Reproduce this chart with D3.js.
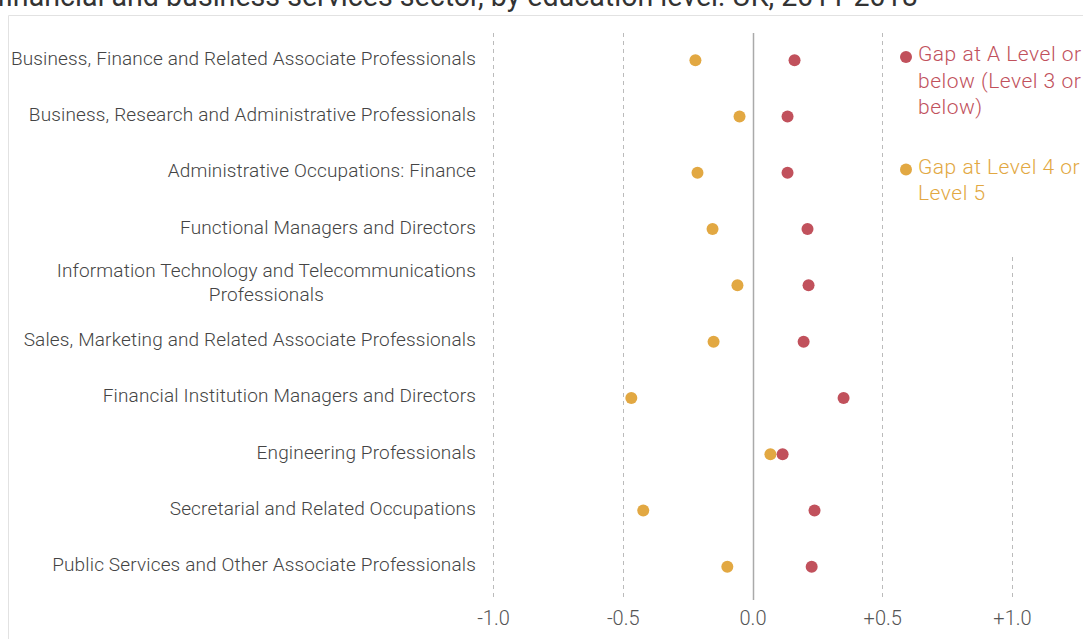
<!DOCTYPE html>
<html>
<head>
<meta charset="utf-8">
<script src="https://cdn.jsdelivr.net/npm/d3@7"></script>
<style>
  body { margin: 0; background: #fff; overflow: hidden; }
  text { font-family: Roboto, "Open Sans", sans-serif; }
</style>
</head>
<body>
<svg id="chart" width="1083" height="639"></svg>
<script>
const categories = [
    ["Business, Finance and Related Associate Professionals"],
    ["Business, Research and Administrative Professionals"],
    ["Administrative Occupations: Finance"],
    ["Functional Managers and Directors"],
    ["Information Technology and Telecommunications", "Professionals"],
    ["Sales, Marketing and Related Associate Professionals"],
    ["Financial Institution Managers and Directors"],
    ["Engineering Professionals"],
    ["Secretarial and Related Occupations"],
    ["Public Services and Other Associate Professionals"]
];
const gapALevel = [0.162, 0.135, 0.135, 0.212, 0.216, 0.197, 0.351, 0.116, 0.239, 0.228];
const gapLevel45 = [-0.22, -0.05, -0.212, -0.154, -0.058, -0.15, -0.467, 0.069, -0.421, -0.097];
const tickValues = [-1, -0.5, 0, 0.5, 1];
const tickLabels = ["-1.0", "-0.5", "0.0", "+0.5", "+1.0"];
const legendItems = [
    { lines: ["Gap at A Level or", "below (Level 3 or", "below)"], color: "#c1515c" },
    { lines: ["Gap at Level 4 or", "Level 5"], color: "#e2a842" }
];

const svg = d3.select("#chart");

// title, mostly cropped off the top
svg.append("text")
    .attr("x", -3)
    .attr("y", 6)
    .attr("font-size", 28.6)
    .attr("fill", "#333")
    .text("financial and business services sector, by education level: UK, 2011-2018");

// card border
svg.append("path")
    .attr("d", "M8.5,639 V15.5 H1083")
    .attr("fill", "none")
    .attr("stroke", "#e2e2e2");

const x = d3.scaleLinear().domain([-1, 1]).range([493, 1012]);
const y = d3.scaleBand().domain(d3.range(categories.length)).range([32, 595]);
const gridTop = 33, gridBottom = 600;

// grid
svg.append("g").selectAll("line")
    .data(tickValues)
    .join("line")
    .attr("x1", d => Math.round(x(d)) + 0.5)
    .attr("x2", d => Math.round(x(d)) + 0.5)
    .attr("y1", gridTop)
    .attr("y2", gridBottom)
    .attr("stroke", d => d === 0 ? "#aaa" : "#bbb")
    .attr("stroke-width", d => d === 0 ? 1.5 : 1)
    .attr("stroke-dasharray", d => d === 0 ? null : "4,4");

// axis labels
const axis = d3.axisBottom(x)
    .tickValues(tickValues)
    .tickFormat((d, i) => tickLabels[i])
    .tickSize(0)
    .tickPadding(0);
const ax = svg.append("g")
    .attr("transform", "translate(0,611)")
    .call(axis);
ax.select(".domain").remove();
ax.selectAll("text")
    .attr("font-family", "Roboto, sans-serif")
    .attr("font-weight", 300)
    .attr("font-size", 20)
    .attr("fill", "#555");

// category labels
const labels = svg.append("g");
categories.forEach((lines, i) => {
    const cy = y(i) + y.bandwidth() / 2;
    const t = labels.append("text")
        .attr("font-size", 19)
        .attr("letter-spacing", 0.15)
        .attr("font-weight", 300)
        .attr("fill", "#444");
    const lh = 23.5;
    const y0 = cy - (lines.length - 1) * lh / 2 + (lines.length > 1 ? 3.5 : 4.5);
    lines.forEach((ln, j) => {
        t.append("tspan").attr("y", y0 + j * lh).text(ln);
    });
    if (lines.length === 1) {
        t.attr("text-anchor", "end").selectAll("tspan").attr("x", 476);
    } else {
        const w = d3.max(t.selectAll("tspan").nodes(), n => n.getComputedTextLength());
        t.attr("text-anchor", "middle").selectAll("tspan").attr("x", 476 - w / 2);
    }
});

// dots
const dots = svg.append("g");
dots.selectAll(".orange")
    .data(gapLevel45)
    .join("circle")
    .attr("class", "orange")
    .attr("cx", d => x(d))
    .attr("cy", (d, i) => y(i) + y.bandwidth() / 2)
    .attr("r", 6)
    .attr("fill", legendItems[1].color);
dots.selectAll(".red")
    .data(gapALevel)
    .join("circle")
    .attr("class", "red")
    .attr("cx", d => x(d))
    .attr("cy", (d, i) => y(i) + y.bandwidth() / 2)
    .attr("r", 6)
    .attr("fill", legendItems[0].color);

// legend
const legend = svg.append("g");
legend.append("rect")
    .attr("x", 895).attr("y", 33)
    .attr("width", 188).attr("height", 220)
    .attr("fill", "#fff");
let ly = 61;
legendItems.forEach(item => {
    legend.append("circle")
        .attr("cx", 906).attr("cy", ly - 4)
        .attr("r", 6)
        .attr("fill", item.color);
    const t = legend.append("text")
        .attr("font-size", 21)
        .attr("letter-spacing", 0.5)
        .attr("font-weight", 300)
        .attr("fill", item.color);
    item.lines.forEach((ln, j) => {
        t.append("tspan").attr("x", 918).attr("y", ly + j * 26.5).text(ln);
    });
    ly += 112.5;
});
</script>
</body>
</html>
